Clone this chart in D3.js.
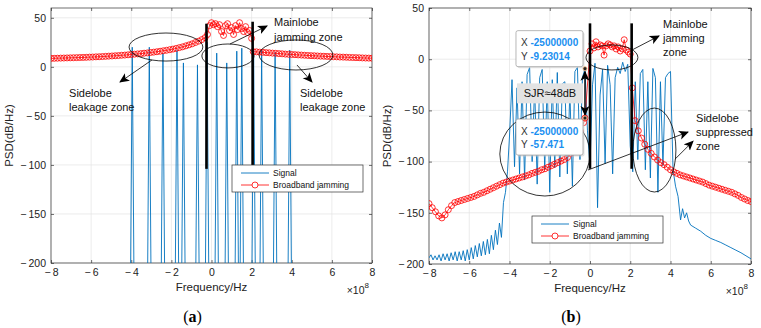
<!DOCTYPE html>
<html>
<head>
<meta charset="utf-8">
<script src="https://cdn.jsdelivr.net/npm/d3@7"></script>
<style>
  body { margin: 0; background: #fff; }
  svg { display: block; }
  text { font-family: "Liberation Sans", Arial, sans-serif; }
</style>
</head>
<body>
<svg id="chart" width="761" height="328"></svg>
<script>
// ---------------------------------- Data ----------------------------------
// Frequencies are in units of 1e8 Hz, PSD in dB/Hz
const xTicks = [-8, -6, -4, -2, 0, 2, 4, 6, 8];
const yTicksA = [-200, -150, -100, -50, 0, 50];
const yTicksB = [-200, -150, -100, -50, 0, 50];

// (a) signal: narrow spectral spikes (centre frequency, peak level)
const spikeFreqA = [-3.95, -3.1, -2.42, -1.72, -1.4, -0.7, -0.22, 0.26, 0.76, 1.26, 1.51, 2.1, 2.5, 3.17, 3.9];
const spikePeakA = [20, 20, 14, 17, 4, 2, 25, 14, 4, 16, 19, 18, 17, 15, 17];

// (a) broadband jamming
const jamLeftFreqA = d3.range(-8, -0.3, 0.16);
const jamLeftA = [8.6, 8.7, 8.8, 8.9, 9.0, 9.1, 9.2, 9.3, 9.4, 9.5, 9.6, 9.7, 9.9, 10.0, 10.2, 10.3, 10.5,
  10.7, 10.9, 11.1, 11.3, 11.5, 11.8, 12.0, 12.3, 12.6, 12.9, 13.2, 13.5, 13.9, 14.2, 14.6, 15.0, 15.4,
  15.9, 16.4, 16.9, 17.5, 18.1, 18.8, 19.6, 20.4, 21.4, 22.4, 23.5, 24.8, 26.2, 27.8, 29.8];
const jamMainFreqA = [-0.2, -0.1, 0.0, 0.1, 0.2, 0.3, 0.4, 0.5, 0.6, 0.7, 0.8, 0.9, 1.0, 1.1, 1.2, 1.3, 1.4, 1.5, 1.6, 1.7, 1.8, 1.9, 2.0];
const jamMainA = [33, 42, 45, 43, 44, 41, 43, 36, 32, 42, 44, 37, 40, 33, 42, 38, 45, 39, 36, 41, 35, 37, 29];
const jamRightFreqA = d3.range(2.08, 8.01, 0.16);
const jamRightA = [15.5, 15.3, 15.0, 14.8, 14.5, 14.3, 14.0, 13.8, 13.5, 13.3, 13.0, 12.8, 12.6, 12.4, 12.2,
  12.0, 11.8, 11.6, 11.4, 11.3, 11.1, 10.9, 10.8, 10.6, 10.5, 10.3, 10.2, 10.0, 9.9, 9.8, 9.6, 9.5, 9.4,
  9.3, 9.1, 9.0, 8.9, 8.8];

// (a) mainlobe boundary markers [freq, top, bottom]
const boundsA = [[-0.25, 44, -104], [2.05, 46, -102]];

// (b) signal
const sigFreqB = [
  -8.0, -7.9, -7.8, -7.7, -7.6, -7.5, -7.4, -7.3, -7.2, -7.1, -7.0, -6.9, -6.8, -6.7, -6.6, -6.5, -6.4,
  -6.3, -6.2, -6.1, -6.0, -5.9, -5.8, -5.7, -5.6, -5.5, -5.4, -5.3, -5.2, -5.1, -5.0, -4.9, -4.8, -4.7,
  -4.6, -4.5, -4.4, -4.3, -4.2, -4.1,
  -4.0, -3.875, -3.75, -3.625, -3.5, -3.375, -3.25, -3.125, -3.0, -2.875, -2.75, -2.625, -2.5, -2.375,
  -2.25, -2.125, -2.0, -1.875, -1.75, -1.625, -1.5, -1.375, -1.25, -1.125, -1.0, -0.875, -0.75, -0.625,
  -0.5, -0.375, -0.25, -0.125, 0.0, 0.125, 0.25, 0.375, 0.5, 0.625, 0.75, 0.875, 1.0, 1.125, 1.25, 1.375,
  1.5, 1.625, 1.75, 1.875, 2.0, 2.125, 2.25, 2.375, 2.5, 2.625, 2.75, 2.875, 3.0, 3.125, 3.25, 3.375, 3.5,
  3.625, 3.75, 3.875, 4.0, 4.125, 4.25, 4.375, 4.5, 4.6, 4.7, 4.8, 4.9, 5.0, 5.25, 5.5, 5.75, 6.0, 6.25,
  6.5, 6.75, 7.0, 7.25, 7.5, 7.75, 8.0];
const sigB = [
  -194, -191, -196, -192, -196, -191, -197, -190, -196, -190, -197, -189, -196, -188, -197, -188, -196,
  -187, -197, -186, -196, -184, -195, -182, -193, -180, -192, -178, -191, -176, -190, -172, -186, -167,
  -181, -160, -174, -140, -130, -110,
  -75, -20, -105, -28, -112, -22, -118, -15, -8, -100, -25, -122, -18, -10,
  -108, -22, -130, -20, -106, -13, -115, -24, -22, -112, -30, -124, -12, -8,
  -98, -18, -9.2, -70, -105, -25, -4, -145, -35, -10, -102, -6, -25, -112, -18, -8,
  -14, -3, -12, -5, -85, -110, -22, -98, -14, -10, -108, -22, -116, -9, -18, -130, -22,
  -104, -18, -14, -12, -108, -124, -134, -157, -146, -155, -150, -158, -162, -165, -168, -172, -175, -177,
  -179, -181.5, -184, -186.5, -189, -192, -195];

// (b) broadband jamming
const jamLeftFreqB = d3.range(-8, -0.3, 0.16);
const jamLeftB = [-141, -145, -149, -153, -155, -152, -147, -143, -140, -139, -138, -137, -136, -135, -134,
  -132.5, -131, -130, -128.5, -127, -125.5, -124, -122.5, -121, -120, -119, -118, -117, -116, -115, -114,
  -113, -111.5, -110.5, -109.5, -108, -107, -105.5, -104, -102.5, -101, -99.5, -98, -96, -92, -86, -78,
  -70, -62];
const jamMainFreqB = [-0.25, 0.0, 0.1, 0.2, 0.3, 0.4, 0.5, 0.6, 0.7, 0.8, 0.9, 1.0, 1.1, 1.2, 1.3, 1.4, 1.5, 1.6, 1.7, 1.8, 1.9, 2.0, 2.1];
const jamMainB = [-57.471, 8, 15, 11, 17, 12, 14, 13, 4, 13, 15, 14, 12, 13, 10, 12, 8, 10, 19, 9, 7, 5, -28];
const jamRightFreqB = d3.range(2.24, 8.01, 0.16);
const jamRightB = [-60, -70, -77, -83, -88, -92, -95.5, -98.5, -101, -103, -105.5, -108, -110, -111.5, -113,
  -114, -115, -116, -117, -118, -119, -120, -121.5, -123, -124, -125, -126, -127, -128, -129, -130, -131.5,
  -133, -135, -136.5, -138, -139];

const boundsB = [[0.0, 35, -107], [2.07, 35, -107]];

// data tips: [freq, level]
const tipSignalB = [-0.25, -9.23014];
const tipJamB = [-0.25, -57.471];

// ---------------------------------- Helpers ----------------------------------
const svg = d3.select("#chart");
const fmtTick = d => d < 0 ? "\u2212\u2009" + (-d) : String(d);

const defs = svg.append("defs");
defs.append("marker")
    .attr("id", "arrow")
    .attr("viewBox", "0 0 10 10")
    .attr("refX", 9).attr("refY", 5)
    .attr("markerWidth", 10).attr("markerHeight", 10)
    .attr("markerUnits", "userSpaceOnUse")
    .attr("orient", "auto-start-reverse")
    .append("path")
    .attr("d", "M0,0.5 L10,5 L0,9.5 L2.5,5 Z")
    .attr("fill", "#000");

function zip(xs, ys) {
    return xs.map((f, i) => ({f: f, v: ys[i]}));
}

function drawPanel(cfg) {
    const x = d3.scaleLinear().domain([-8, 8]).range([cfg.left, cfg.right]);
    const y = d3.scaleLinear().domain(cfg.yDomain).range([cfg.bottom, cfg.top]);
    const g = svg.append("g");

    defs.append("clipPath").attr("id", cfg.id + "-clip")
        .append("rect")
        .attr("x", cfg.left).attr("y", cfg.top)
        .attr("width", cfg.right - cfg.left).attr("height", cfg.bottom - cfg.top);

    // grid
    g.append("g").selectAll("line").data(xTicks).join("line")
        .attr("x1", d => x(d)).attr("x2", d => x(d))
        .attr("y1", cfg.top).attr("y2", cfg.bottom)
        .attr("stroke", "#e4e4e4").attr("stroke-width", 0.7);
    g.append("g").selectAll("line").data(cfg.yTicks).join("line")
        .attr("x1", cfg.left).attr("x2", cfg.right)
        .attr("y1", d => y(d)).attr("y2", d => y(d))
        .attr("stroke", "#e4e4e4").attr("stroke-width", 0.7);

    // axes with inward ticks
    const styleAxis = a => {
        a.select(".domain").remove();
        a.selectAll("line").attr("stroke", "#333").attr("stroke-width", 0.7);
        a.selectAll("text").attr("fill", "#222").style("font-size", "10.5px")
            .style("font-family", "'Liberation Sans', Arial, sans-serif");
    };
    g.append("g").attr("transform", `translate(0,${cfg.bottom})`)
        .call(d3.axisBottom(x).tickValues(xTicks).tickSize(-3).tickPadding(6).tickFormat(fmtTick))
        .call(styleAxis);
    g.append("g").attr("transform", `translate(0,${cfg.top})`)
        .call(d3.axisTop(x).tickValues(xTicks).tickSize(-3).tickFormat(""))
        .call(styleAxis);
    g.append("g").attr("transform", `translate(${cfg.left},0)`)
        .call(d3.axisLeft(y).tickValues(cfg.yTicks).tickSize(-3).tickPadding(5).tickFormat(fmtTick))
        .call(styleAxis);
    g.append("g").attr("transform", `translate(${cfg.right},0)`)
        .call(d3.axisRight(y).tickValues(cfg.yTicks).tickSize(-3).tickFormat(""))
        .call(styleAxis);

    // plot box
    g.append("rect")
        .attr("x", cfg.left).attr("y", cfg.top)
        .attr("width", cfg.right - cfg.left).attr("height", cfg.bottom - cfg.top)
        .attr("fill", "none").attr("stroke", "#333").attr("stroke-width", 0.7);

    // axis labels
    g.append("text")
        .attr("x", (cfg.left + cfg.right) / 2)
        .attr("y", cfg.bottom + 28)
        .attr("text-anchor", "middle")
        .style("font-size", "11.5px").attr("fill", "#222")
        .text("Frequency/Hz");
    g.append("text")
        .attr("transform", `translate(${cfg.left - 38},${(cfg.top + cfg.bottom) / 2}) rotate(-90)`)
        .attr("text-anchor", "middle")
        .style("font-size", "11.5px").attr("fill", "#222")
        .text("PSD(dB/Hz)");
    const expo = g.append("text")
        .attr("x", cfg.right - 3)
        .attr("y", cfg.bottom + 31)
        .attr("text-anchor", "end")
        .style("font-size", "10.5px").attr("fill", "#222");
    expo.append("tspan").text("\u00d710");
    expo.append("tspan").attr("dy", -6).style("font-size", "8px").text("8");

    // caption
    const cap = g.append("text")
        .attr("x", (cfg.left + cfg.right) / 2 - 19)
        .attr("y", 322)
        .attr("text-anchor", "middle")
        .style("font-family", "'Liberation Serif', 'Times New Roman', serif")
        .style("font-size", "16px").attr("fill", "#000");
    cap.append("tspan").text("(");
    cap.append("tspan").style("font-weight", "bold").text(cfg.caption);
    cap.append("tspan").text(")");

    const plot = g.append("g").attr("clip-path", `url(#${cfg.id}-clip)`);
    return {g, plot, x, y};
}

function drawJamming(plot, x, y, pts) {
    plot.append("path")
        .datum(pts)
        .attr("fill", "none")
        .attr("stroke", "#ff0000")
        .attr("stroke-width", 0.8)
        .attr("d", d3.line().x(d => x(d.f)).y(d => y(d.v)));
    plot.append("g").selectAll("circle").data(pts).join("circle")
        .attr("cx", d => x(d.f)).attr("cy", d => y(d.v)).attr("r", 3)
        .attr("fill", "none").attr("stroke", "#ff0000").attr("stroke-width", 0.8);
}

function drawBounds(g, x, y, bounds) {
    g.append("g").selectAll("line").data(bounds).join("line")
        .attr("x1", d => x(d[0])).attr("x2", d => x(d[0]))
        .attr("y1", d => y(d[1])).attr("y2", d => y(d[2]))
        .attr("stroke", "#000").attr("stroke-width", 2.6);
}

function drawEllipse(g, x, y, e) {
    g.append("ellipse")
        .attr("cx", x(e.cx)).attr("cy", y(e.cy))
        .attr("rx", x(e.cx + e.rx) - x(e.cx))
        .attr("ry", y(e.cy - e.ry) - y(e.cy))
        .attr("fill", "none").attr("stroke", "#000").attr("stroke-width", 0.8);
}

function drawArrow(g, x, y, a) {
    g.append("line")
        .attr("x1", x(a[0])).attr("y1", y(a[1]))
        .attr("x2", x(a[2])).attr("y2", y(a[3]))
        .attr("stroke", "#000").attr("stroke-width", 0.8)
        .attr("marker-end", "url(#arrow)");
}

function drawLabel(g, x, y, f, v, lines, step) {
    const t = g.append("text")
        .attr("x", x(f)).attr("y", y(v))
        .style("font-size", "11px").attr("fill", "#111");
    lines.forEach((s, i) => {
        t.append("tspan").attr("x", x(f)).attr("dy", i === 0 ? 0 : step).text(s);
    });
}

function drawLegend(g, lx, ly) {
    const lg = g.append("g").attr("transform", `translate(${lx},${ly})`);
    lg.append("rect").attr("width", 131).attr("height", 27)
        .attr("fill", "#fff").attr("stroke", "#333").attr("stroke-width", 0.7);
    lg.append("line").attr("x1", 9).attr("x2", 37).attr("y1", 8).attr("y2", 8)
        .attr("stroke", "#0072BD").attr("stroke-width", 0.9);
    lg.append("text").attr("x", 41).attr("y", 11).style("font-size", "8.5px").attr("fill", "#111").text("Signal");
    lg.append("line").attr("x1", 9).attr("x2", 37).attr("y1", 20).attr("y2", 20)
        .attr("stroke", "#ff0000").attr("stroke-width", 0.8);
    lg.append("circle").attr("cx", 23).attr("cy", 20).attr("r", 3)
        .attr("fill", "#fff").attr("stroke", "#ff0000").attr("stroke-width", 0.8);
    lg.append("text").attr("x", 41).attr("y", 23).style("font-size", "8.5px").attr("fill", "#111").text("Broadband jamming");
}

// ---------------------------------- Panel (a) ----------------------------------
const A = drawPanel({id: "pa", left: 51, right: 372, top: 8, bottom: 263,
    yDomain: [-200, 60], yTicks: yTicksA, caption: "a"});

// signal spikes
const spikeHalf = 0.08;
spikeFreqA.forEach((f, i) => {
    A.plot.append("path")
        .datum([{f: f - spikeHalf, v: -200}, {f: f, v: spikePeakA[i]}, {f: f + spikeHalf, v: -200}])
        .attr("fill", "none")
        .attr("stroke", "#0072BD")
        .attr("stroke-width", 0.9)
        .attr("d", d3.line().x(d => A.x(d.f)).y(d => A.y(d.v)));
});

drawJamming(A.plot, A.x, A.y,
    zip(jamLeftFreqA, jamLeftA).concat(zip(jamMainFreqA, jamMainA), zip(jamRightFreqA, jamRightA)));
drawBounds(A.g, A.x, A.y, boundsA);

// zone annotations
drawEllipse(A.g, A.x, A.y, {cx: -2.27, cy: 20.2, rx: 1.84, ry: 14.3});
drawEllipse(A.g, A.x, A.y, {cx: 0.82, cy: 11.1, rx: 1.3, ry: 12.2});
drawEllipse(A.g, A.x, A.y, {cx: 4.21, cy: 12.1, rx: 1.84, ry: 15.3});
drawArrow(A.g, A.x, A.y, [-2.97, 7.0, -4.56, -15.5]);
drawArrow(A.g, A.x, A.y, [0.92, 23.3, 2.77, 41.6]);
drawArrow(A.g, A.x, A.y, [4.26, 1.9, 5.01, -15.5]);
drawLabel(A.g, A.x, A.y, 3.12, 41.6, ["Mainlobe", "jamming zone"], 15);
drawLabel(A.g, A.x, A.y, -7.1, -30.7, ["Sidelobe", "leakage zone"], 14);
drawLabel(A.g, A.x, A.y, 4.41, -30.7, ["Sidelobe", "leakage zone"], 14);

drawLegend(A.g, 232, 165);

// ---------------------------------- Panel (b) ----------------------------------
const B = drawPanel({id: "pb", left: 429, right: 751, top: 8, bottom: 264,
    yDomain: [-200, 50], yTicks: yTicksB, caption: "b"});

B.plot.append("path")
    .datum(zip(sigFreqB, sigB))
    .attr("fill", "none")
    .attr("stroke", "#0072BD")
    .attr("stroke-width", 0.9)
    .attr("d", d3.line().x(d => B.x(d.f)).y(d => B.y(d.v)));

drawJamming(B.plot, B.x, B.y,
    zip(jamLeftFreqB, jamLeftB).concat(zip(jamMainFreqB, jamMainB), zip(jamRightFreqB, jamRightB)));
drawBounds(B.g, B.x, B.y, boundsB);

drawEllipse(B.g, B.x, B.y, {cx: 1.09, cy: 1.7, rx: 1.29, ry: 12.2});
drawEllipse(B.g, B.x, B.y, {cx: -2.24, cy: -92.6, rx: 2.24, ry: 41});
drawEllipse(B.g, B.x, B.y, {cx: 3.2, cy: -88.7, rx: 1.07, ry: 41});
drawArrow(B.g, B.x, B.y, [2.09, 9.0, 3.43, 22.7]);
drawArrow(B.g, B.x, B.y, [-0.1, -108.2, 4.87, -71.1]);
drawArrow(B.g, B.x, B.y, [4.22, -97.7, 5.12, -80.1]);
drawLabel(B.g, B.x, B.y, 3.63, 30.5, ["Mainlobe", "jamming", "zone"], 14);
drawLabel(B.g, B.x, B.y, 5.27, -61.3, ["Sidelobe", "suppressed", "zone"], 14);

// SJR double arrow between the two data tips
const tipX = B.x(tipSignalB[0]);
B.g.append("line")
    .attr("x1", tipX).attr("x2", tipX)
    .attr("y1", B.y(tipSignalB[1]) + 3).attr("y2", B.y(tipJamB[1]) - 3)
    .attr("stroke", "#000").attr("stroke-width", 1.4)
    .attr("marker-start", "url(#arrow)").attr("marker-end", "url(#arrow)");

// data tip boxes
function dataTip(tip, above) {
    const px = B.x(tip[0]), py = B.y(tip[1]);
    const bx = px - 69, by = above ? py - 38 : py + 1;
    const box = B.g.append("g").attr("transform", `translate(${bx},${by})`);
    box.append("rect").attr("x", 1.5).attr("y", 1.5).attr("width", 67).attr("height", 36)
        .attr("rx", 2).attr("fill", "#cfcfcf").attr("opacity", 0.6);
    box.append("rect").attr("width", 67).attr("height", 36).attr("rx", 2)
        .attr("fill", "#fff").attr("stroke", "#9a9a9a").attr("stroke-width", 0.7);
    const rows = [["X", String(tip[0] * 1e8)], ["Y", String(tip[1])]];
    rows.forEach((r, i) => {
        const t = box.append("text").attr("x", 5).attr("y", 15.5 + i * 13.5)
            .style("font-size", "10px");
        t.append("tspan").attr("fill", "#333").text(r[0] + " ");
        t.append("tspan").attr("fill", "#1a8ff0").style("font-weight", "bold").text(r[1]);
    });
    B.g.append("circle").attr("cx", px).attr("cy", py).attr("r", 2)
        .attr("fill", "#222").attr("stroke", "#f3b37a").attr("stroke-width", 0.8);
}
dataTip(tipSignalB, true);
dataTip(tipJamB, false);

// SJR label
const sjrY = (B.y(tipSignalB[1]) + B.y(tipJamB[1])) / 2;
B.g.append("rect")
    .attr("x", tipX - 68).attr("y", sjrY - 10)
    .attr("width", 66).attr("height", 20)
    .attr("fill", "#e3e3e3");
B.g.append("text")
    .attr("x", tipX - 35).attr("y", sjrY + 4)
    .attr("text-anchor", "middle")
    .style("font-size", "11px").attr("fill", "#111")
    .text("SJR\u224848dB");

drawLegend(B.g, 532, 216);
</script>
</body>
</html>
